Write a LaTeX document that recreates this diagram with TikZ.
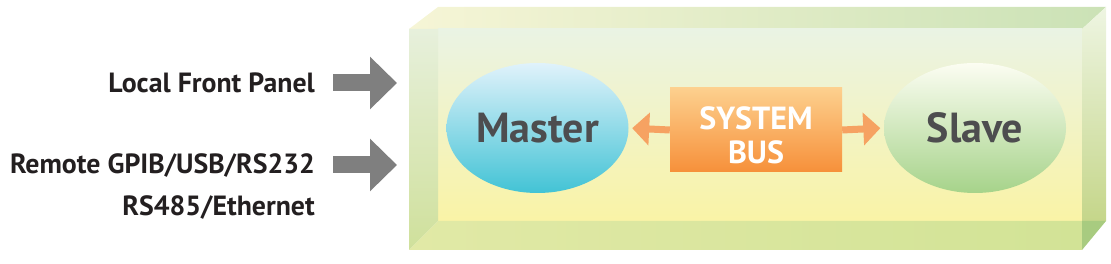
\documentclass[tikz,border=0pt]{standalone}
\usepackage{fontspec}
\setmainfont{PT Sans}
\usetikzlibrary{shapes.geometric,arrows.meta}
\definecolor{topL}{HTML}{F6F5D6}
\definecolor{topR}{HTML}{CBE2B6}
\definecolor{innerT}{HTML}{EAF3E4}
\definecolor{innerB}{HTML}{FAF3A6}
\definecolor{leftT}{HTML}{E7F0DC}
\definecolor{leftB}{HTML}{CFE09B}
\definecolor{botL}{HTML}{E1E9A6}
\definecolor{botR}{HTML}{D2E396}
\definecolor{rightT}{HTML}{EEF5E2}
\definecolor{rightB}{HTML}{C5D68A}
\definecolor{rightC}{HTML}{A8CB80}
\definecolor{masterT}{HTML}{E0F2FB}
\definecolor{masterB}{HTML}{42C3D5}
\definecolor{slaveT}{HTML}{FCFDF2}
\definecolor{slaveB}{HTML}{A6D38A}
\definecolor{busT}{HTML}{FDD08E}
\definecolor{busB}{HTML}{F6903A}
\definecolor{busArrow}{HTML}{F6A262}
\definecolor{grayArrow}{HTML}{7F7F7F}
\definecolor{darkText}{HTML}{4D4D4F}
\definecolor{labelText}{HTML}{231F20}
\begin{document}
\begin{tikzpicture}[x=1pt,y=-1pt,
  unit/.style={ellipse, inner sep=0pt, minimum width=182pt, minimum height=130pt,
    text=darkText, font=\fontsize{42}{48}\selectfont\bfseries},
  masterunit/.style={unit, top color=masterT, bottom color=masterB},
  slaveunit/.style={unit, top color=slaveT, bottom color=slaveB},
  busbox/.style={rectangle, inner sep=0pt, minimum width=172pt, minimum height=84pt,
    top color=busT, bottom color=busB},
  bustext/.style={text=white, align=center, inner sep=0pt,
    font=\fontsize{32}{34}\selectfont\bfseries},
  busarrow/.style={draw=busArrow, line width=7pt, shorten >=3.5pt,
    -{Triangle[width=32pt,length=17pt]}},
  grayarrow/.style={draw=grayArrow, line width=17pt, -{Triangle[width=51pt,length=27pt]}},
  inlabel/.style={text=labelText, font=\fontsize{27.8}{42}\selectfont\bfseries, inner sep=0pt, align=right}
]
\useasboundingbox (0,0) rectangle (1111,264);
% glass box
\shade[left color=topL, right color=topR] (409,29) -- (438,7) -- (1106,7) -- (1082,29) -- cycle;
\shade[top color=innerT, bottom color=innerB] (438,29) rectangle (1082,221);
\shade[top color=leftT, bottom color=leftB] (409,29) -- (438,29) -- (438,221) -- (409,250) -- cycle;
\shade[left color=botL, right color=botR] (409,250) -- (438,221) -- (1082,221) -- (1082,250) -- cycle;
\shade[top color=rightT, bottom color=rightB] (1082,29) -- (1106,7) -- (1106,221) -- (1082,221) -- cycle;
\fill[rightC] (1082,221) -- (1106,221) -- (1082,250) -- cycle;
% units
\node[masterunit] (master) at (537.5,128) {Master};
\node[slaveunit] (slave) at (975,128) {Slave};
\node[busbox] (bus) at (756,130) {};
\node[bustext] (buslabel) at ([yshift=-5pt]bus.center) {SYSTEM\\BUS};
\draw[busarrow] (bus.west) -- (master.east);
\draw[busarrow] (bus.east) -- (slave.west);
% inputs
\node[inlabel, anchor=east] (local) at (315,83) {Local Front Panel};
\node[inlabel, anchor=north east] (remote) at (315,153) {Remote GPIB/USB/RS232\\RS485/Ethernet};
\coordinate (localOut) at (333,83);
\coordinate (localIn) at (397,83);
\coordinate (remoteOut) at (333,165);
\coordinate (remoteIn) at (397,165);
\draw[grayarrow] (localOut) -- (localIn);
\draw[grayarrow] (remoteOut) -- (remoteIn);
\end{tikzpicture}
\end{document}
